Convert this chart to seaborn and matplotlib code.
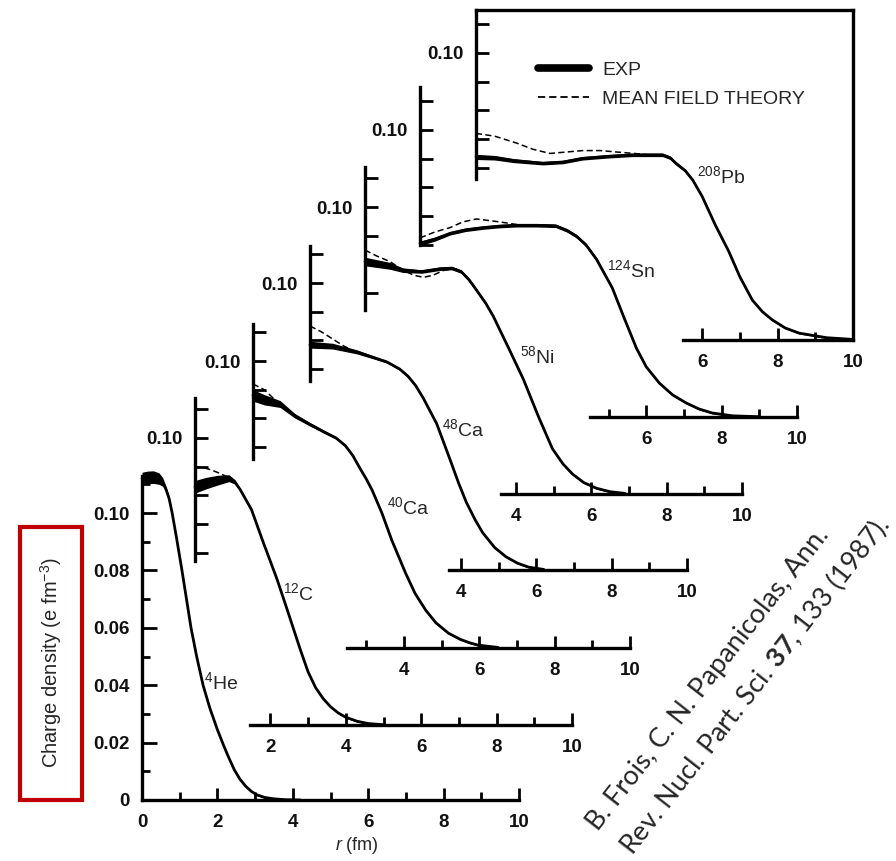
import matplotlib
matplotlib.use("Agg")
import matplotlib.pyplot as plt
from matplotlib.lines import Line2D
from matplotlib.patches import Rectangle
import numpy as np
import seaborn as sns

# ---------------- data (r in fm, rho in e fm^-3) ----------------
# 4He
he_r = [0.0, 0.15, 0.3, 0.45, 0.55, 0.63, 0.72, 0.8, 0.92, 1.06, 1.18, 1.3, 1.45, 1.62, 1.8, 2.0, 2.15, 2.3, 2.45, 2.6, 2.75, 2.9, 3.05, 3.25, 3.5, 3.8, 4.2]
he_exp = [0.112, 0.1124, 0.1125, 0.112, 0.1108, 0.1085, 0.105, 0.100, 0.091, 0.080, 0.070, 0.060, 0.050, 0.040, 0.032, 0.0245, 0.0195, 0.0148, 0.0105, 0.0072, 0.0048, 0.003, 0.0018, 0.0009, 0.0004, 0.0001, 0.0]
he_err = [0.0022, 0.0022, 0.0022, 0.0020, 0.0015, 0.001, 0.0007, 0.0005, 0.0004, 0.0004, 0.0004, 0.0004, 0.0004, 0.0004, 0.0003, 0.0003, 0.0003, 0.0003, 0.0003, 0.0003, 0.0003, 0.0003, 0.0003, 0.0003, 0.0003, 0.0003, 0.0003]

# 12C
c_r = [0.0, 0.3, 0.6, 0.9, 1.05, 1.2, 1.35, 1.5, 1.65, 1.8, 2.0, 2.17, 2.4, 2.6, 2.8, 3.0, 3.2, 3.4, 3.6, 3.8, 4.0, 4.3, 4.6, 5.0]
c_exp = [0.083, 0.0843, 0.0853, 0.086, 0.0848, 0.082, 0.0785, 0.075, 0.0695, 0.064, 0.057, 0.051, 0.042, 0.034, 0.026, 0.0185, 0.013, 0.0092, 0.0063, 0.0042, 0.0027, 0.0013, 0.0005, 0.0001]
c_err = [0.0022, 0.002, 0.0017, 0.0012, 0.0008, 0.0005, 0.0004, 0.0004, 0.0004, 0.0004, 0.0004, 0.0004, 0.0004, 0.0004, 0.0004, 0.0003, 0.0003, 0.0003, 0.0003, 0.0003, 0.0003, 0.0003, 0.0003, 0.0003]
c_th_r = [0.0, 0.2, 0.4, 0.6, 0.8, 0.95]
c_th = [0.090, 0.0898, 0.089, 0.088, 0.0868, 0.086]

# 40Ca
ca40_r = [0.0, 0.3, 0.72, 1.1, 1.5, 1.9, 2.2, 2.45, 2.65, 2.82, 3.0, 3.16, 3.42, 3.68, 4.05, 4.3, 4.58, 4.85, 5.18, 5.5, 5.75, 5.97, 6.5]
ca40_exp = [0.088, 0.0865, 0.085, 0.081, 0.078, 0.0752, 0.0732, 0.0705, 0.067, 0.063, 0.059, 0.055, 0.047, 0.0376, 0.026, 0.019, 0.0132, 0.0088, 0.0052, 0.003, 0.0018, 0.001, 0.0002]
ca40_err = [0.002, 0.0018, 0.0012, 0.0008, 0.0006, 0.0005, 0.0004, 0.0004, 0.0004, 0.0004, 0.0004, 0.0004, 0.0004, 0.0004, 0.0004, 0.0003, 0.0003, 0.0003, 0.0003, 0.0003, 0.0003, 0.0003, 0.0003]
ca40_th_r = [0.0, 0.3, 0.5, 0.72]
ca40_th = [0.092, 0.090, 0.0875, 0.085]

# 48Ca
ca48_r = [0.0, 0.6, 1.24, 1.7, 2.04, 2.38, 2.6, 2.8, 3.0, 3.2, 3.36, 3.7, 3.95, 4.15, 4.38, 4.58, 4.9, 5.2, 5.5, 5.8, 6.2]
ca48_exp = [0.0785, 0.078, 0.076, 0.074, 0.0725, 0.070, 0.0675, 0.0643, 0.060, 0.055, 0.051, 0.039, 0.030, 0.0235, 0.0175, 0.013, 0.0078, 0.0046, 0.0024, 0.0010, 0.0002]
ca48_err = [0.0012, 0.001, 0.0007, 0.0005, 0.0004, 0.0004, 0.0004, 0.0004, 0.0004, 0.0004, 0.0004, 0.0004, 0.0004, 0.0004, 0.0003, 0.0003, 0.0003, 0.0003, 0.0003, 0.0003, 0.0003]
ca48_th_r = [0.0, 0.3, 0.6, 0.9, 1.24]
ca48_th = [0.085, 0.083, 0.0805, 0.078, 0.076]

# 58Ni
ni_r = [0.0, 0.66, 1.0, 1.5, 2.0, 2.3, 2.55, 2.75, 2.96, 3.2, 3.4, 3.84, 4.2, 4.6, 4.97, 5.25, 5.5, 5.8, 6.14, 6.5, 6.9]
ni_exp = [0.081, 0.0795, 0.078, 0.0775, 0.0785, 0.0787, 0.0775, 0.0748, 0.071, 0.0665, 0.062, 0.050, 0.040, 0.027, 0.0158, 0.0105, 0.0070, 0.0040, 0.002, 0.0008, 0.0002]
ni_err = [0.0015, 0.0012, 0.0008, 0.0006, 0.0006, 0.0006, 0.0006, 0.0006, 0.0006, 0.0006, 0.0006, 0.0005, 0.0005, 0.0004, 0.0004, 0.0003, 0.0003, 0.0003, 0.0003, 0.0003, 0.0003]
ni_th_r = [0.0, 0.3, 0.66, 1.0, 1.3, 1.55, 1.8, 2.1, 2.43]
ni_th = [0.085, 0.083, 0.081, 0.078, 0.0762, 0.0755, 0.0762, 0.078, 0.0785]

# 124Sn
sn_r = [0.0, 0.4, 0.8, 1.2, 1.68, 2.1, 2.56, 3.1, 3.6, 3.9, 4.15, 4.4, 4.68, 5.1, 5.4, 5.74, 6.0, 6.35, 6.7, 7.06, 7.4, 7.75, 8.3, 9.0]
sn_exp = [0.0605, 0.062, 0.064, 0.0652, 0.066, 0.0665, 0.0668, 0.0668, 0.0666, 0.065, 0.063, 0.060, 0.055, 0.045, 0.035, 0.024, 0.0175, 0.0118, 0.0077, 0.0049, 0.0028, 0.0014, 0.0004, 0.0001]
sn_err = [0.0008, 0.0007, 0.0006, 0.0006, 0.0006, 0.0006, 0.0006, 0.0006, 0.0006, 0.0006, 0.0006, 0.0006, 0.0006, 0.0005, 0.0005, 0.0004, 0.0004, 0.0003, 0.0003, 0.0003, 0.0003, 0.0003, 0.0003, 0.0003]
sn_th_r = [0.0, 0.4, 0.8, 1.14, 1.5, 2.1, 2.6]
sn_th = [0.0624, 0.0645, 0.066, 0.068, 0.069, 0.068, 0.067]

# 208Pb
pb_r = [0.0, 0.5, 1.0, 1.77, 2.3, 2.83, 3.5, 4.15, 4.95, 5.15, 5.3, 5.55, 5.75, 6.0, 6.35, 6.7, 7.0, 7.33, 7.6, 7.86, 8.2, 8.57, 9.3, 10.0]
pb_exp = [0.0638, 0.0635, 0.0625, 0.0616, 0.062, 0.0633, 0.064, 0.0645, 0.0645, 0.0635, 0.0616, 0.059, 0.0557, 0.050, 0.040, 0.031, 0.022, 0.0139, 0.0098, 0.007, 0.0042, 0.0024, 0.0008, 0.0002]
pb_err = [0.0009, 0.0008, 0.0007, 0.0006, 0.0006, 0.0006, 0.0006, 0.0006, 0.0006, 0.0006, 0.0006, 0.0005, 0.0005, 0.0005, 0.0004, 0.0004, 0.0004, 0.0003, 0.0003, 0.0003, 0.0003, 0.0003, 0.0003, 0.0003]
pb_th_r = [0.0, 0.5, 1.08, 1.5, 1.96, 2.4, 2.83, 3.3, 3.73, 4.2, 4.6]
pb_th = [0.072, 0.071, 0.0686, 0.0665, 0.065, 0.0655, 0.066, 0.066, 0.0655, 0.065, 0.0645]

nuclei = ["$^{4}$He", "$^{12}$C", "$^{40}$Ca", "$^{48}$Ca", "$^{58}$Ni", "$^{124}$Sn", "$^{208}$Pb"]

# ---------------- layout (pixels of the 896x861 picture) ----------------
W, H = 896, 861
SX = 37.7      # px per fm
SY = 2870.0    # px per e fm^-3
# r=0 x-pixel, rho=0 y-pixel, left spine from/to, bottom spine start, label (r, rho)
layout = [
    dict(x0=142, y0=800, ylo=0.0, ytop=0.113, xlo=0.0, lab=(1.64, 0.041)),
    dict(x0=195, y0=725, ylo=0.057, ytop=0.114, xlo=1.45, lab=(2.33, 0.046)),
    dict(x0=253, y0=648, ylo=0.066, ytop=0.113, xlo=2.5, lab=(3.55, 0.049)),
    dict(x0=310, y0=570, ylo=0.066, ytop=0.113, xlo=3.7, lab=(3.5, 0.049)),
    dict(x0=365, y0=494, ylo=0.064, ytop=0.114, xlo=3.6, lab=(4.11, 0.048)),
    dict(x0=420, y0=417, ylo=0.060, ytop=0.115, xlo=4.5, lab=(4.96, 0.051)),
    dict(x0=476, y0=340, ylo=0.056, ytop=0.115, xlo=5.5, lab=(5.86, 0.057)),
]
series = [
    (he_r, he_exp, he_err, None, None),
    (c_r, c_exp, c_err, c_th_r, c_th),
    (ca40_r, ca40_exp, ca40_err, ca40_th_r, ca40_th),
    (ca48_r, ca48_exp, ca48_err, ca48_th_r, ca48_th),
    (ni_r, ni_exp, ni_err, ni_th_r, ni_th),
    (sn_r, sn_exp, sn_err, sn_th_r, sn_th),
    (pb_r, pb_exp, pb_err, pb_th_r, pb_th),
]

sns.set_style("white")
plt.rcParams['font.family'] = ['Liberation Sans', 'DejaVu Sans']
plt.rcParams['mathtext.default'] = 'regular'
plt.rcParams['mathtext.fontset'] = 'custom'
plt.rcParams['mathtext.rm'] = 'Liberation Sans'
plt.rcParams['mathtext.it'] = 'Liberation Sans:italic'
plt.rcParams['mathtext.bf'] = 'Lato:bold'

fig = plt.figure(figsize=(W / 100, H / 100), dpi=100)
fig.patch.set_facecolor('white')

XL = (-0.15, 10.3)
YL = (-0.003, 0.121)
DASH = (0, (4, 2.2))

for i, (lay, (r, e, err, tr, th)) in enumerate(zip(layout, series)):
    left = (lay['x0'] + XL[0] * SX) / W
    width = (XL[1] - XL[0]) * SX / W
    bottom = (H - (lay['y0'] - YL[0] * SY)) / H
    height = (YL[1] - YL[0]) * SY / H
    ax = fig.add_axes([left, bottom, width, height])
    ax.set_facecolor('none')
    ax.patch.set_alpha(0)
    ax.set_xlim(*XL)
    ax.set_ylim(*YL)

    lo = np.array(e) - np.array(err)
    hi = np.array(e) + np.array(err)
    ax.fill_between(r, lo, hi, color='black', lw=0)
    sns.lineplot(x=r, y=e, ax=ax, color='black', lw=2.0, sort=False,
                 solid_joinstyle='round', solid_capstyle='round')
    if tr is not None:
        sns.lineplot(x=tr, y=th, ax=ax, color='black', lw=1.1, sort=False, linestyle=DASH)

    for s in ['top', 'right']:
        ax.spines[s].set_visible(False)
    ax.spines['left'].set_position(('data', 0))
    ax.spines['bottom'].set_position(('data', 0))
    ax.spines['left'].set_bounds(lay['ylo'], lay['ytop'])
    ax.spines['bottom'].set_bounds(lay['xlo'], 10)
    for s in ['left', 'bottom']:
        ax.spines[s].set_linewidth(2.4)
        ax.spines[s].set_color('black')

    # 208Pb sits in a closed box (top and right spines too)
    if i == 6:
        ax.spines['top'].set_visible(True)
        ax.spines['top'].set_position(('data', 0.115))
        ax.spines['top'].set_bounds(0, 10)
        ax.spines['right'].set_visible(True)
        ax.spines['right'].set_position(('data', 10))
        ax.spines['right'].set_bounds(0, 0.115)
        for s in ['top', 'right']:
            ax.spines[s].set_linewidth(2.4)
            ax.spines[s].set_color('black')

    first_int = int(np.ceil(lay['xlo'] - 1e-9))
    xmaj = [v for v in range(first_int, 11) if v % 2 == 0]
    xmin = [v for v in range(first_int, 11) if v % 2 == 1]
    ax.set_xticks(xmaj)
    ax.set_xticks(xmin, minor=True)
    ax.set_xticklabels([str(v) for v in xmaj])

    if i == 0:
        ymaj = [0.0, 0.02, 0.04, 0.06, 0.08, 0.10]
        ymin = [0.01, 0.03, 0.05, 0.07, 0.09, 0.11]
        ax.set_yticks(ymaj)
        ax.set_yticks(ymin, minor=True)
        ax.set_yticklabels(['0', '0.02', '0.04', '0.06', '0.08', '0.10'])
    else:
        yt = [round(v * 0.01, 2) for v in range(int(np.ceil(lay['ylo'] * 100 - 1e-6)), 12)]
        ax.set_yticks(yt)
        ax.set_yticklabels(['0.10' if abs(v - 0.10) < 1e-9 else '' for v in yt])

    ax.tick_params(axis='both', which='both', bottom=True, left=True, top=False, right=False)
    ax.tick_params(axis='both', which='major', direction='in', length=9, width=2.0,
                   color='black', labelsize=13.5, pad=10, labelcolor='#111111')
    ax.tick_params(axis='both', which='minor', direction='in', length=6, width=2.0, color='black')
    ax.tick_params(axis='y', which='major', length=9 if i else 11, pad=9)
    for t in ax.get_xticklabels() + ax.get_yticklabels():
        t.set_fontweight('bold')
    ax.set_xlabel('')
    ax.set_ylabel('')

    if i == 6:
        handles = [Line2D([], [], color='black', lw=5.5, solid_capstyle='round'),
                   Line2D([], [], color='black', lw=1.3, linestyle=DASH)]
        ax.legend(handles, ['EXP', 'MEAN FIELD THEORY'], loc='upper left',
                  bbox_to_anchor=(538 / W, 1 - 61 / H), bbox_transform=fig.transFigure,
                  frameon=False, fontsize=14, handlelength=2.6, handletextpad=0.7,
                  labelspacing=0.62, borderpad=0, borderaxespad=0)

    ax.text(lay['lab'][0], lay['lab'][1], nuclei[i], fontsize=14, ha='left', va='center')

# axis titles
fig.text(357 / W, 1 - 845 / H, r'$\it{r}$ (fm)', fontsize=13, ha='center', va='center')
fig.text(51 / W, 1 - 663 / H, 'Charge density (e fm$^{-3}$)', fontsize=14.5,
         rotation=90, ha='center', va='center')
fig.patches.append(Rectangle((20 / W, 1 - 800 / H), 62 / W, 273 / H, transform=fig.transFigure,
                             fill=False, edgecolor='#C00000', lw=3))

# reference note
fig.text(598 / W, 1 - 832 / H, 'B. Frois, C. N. Papanicolas, Ann.', family='Lato',
         fontsize=19.5, rotation=52, rotation_mode='anchor', ha='left', va='baseline')
fig.text(632 / W, 1 - 856 / H, r'Rev. Nucl. Part. Sci. $\mathbf{37}$, 133 (1987).', family='Lato',
         fontsize=19.5, rotation=52, rotation_mode='anchor', ha='left', va='baseline')

fig.savefig('out.png', dpi=100, facecolor='white')
